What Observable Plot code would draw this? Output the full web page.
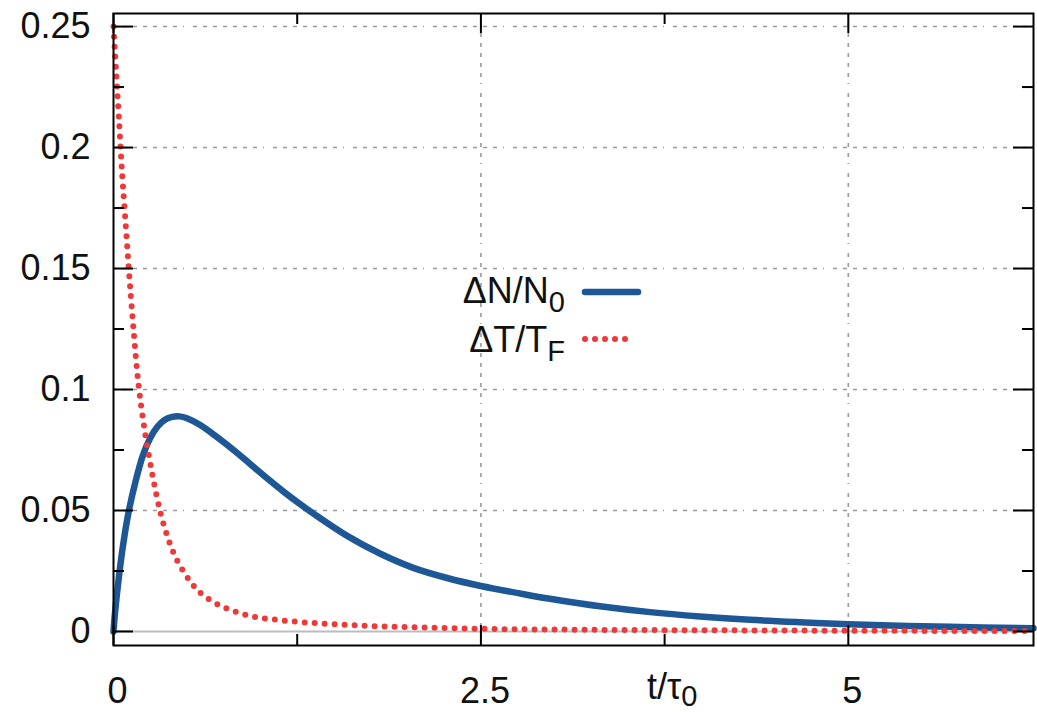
<!DOCTYPE html>
<html>
<head>
<meta charset="utf-8">
<script src="https://cdn.jsdelivr.net/npm/d3@7"></script>
<script src="https://cdn.jsdelivr.net/npm/@observablehq/plot@0.6"></script>
<style>
  html, body { margin: 0; padding: 0; background: #fff; }
  #chart { width: 1037px; height: 712px; }
</style>
</head>
<body>
<div id="chart"></div>
<script>
// Relaxation after excitation: carrier density ΔN/N0 and temperature ΔT/TF vs t/τ0
const tN = [0, 0.01, 0.03, 0.06, 0.1, 0.15, 0.2, 0.25, 0.3, 0.35, 0.4, 0.45, 0.5, 0.59, 0.705, 0.819, 0.932, 1.045, 1.159, 1.27, 1.363, 1.59, 1.816, 2.04, 2.27, 2.5, 2.81, 3.0, 3.31, 3.65, 3.99, 4.33, 4.67, 5.0, 5.69, 6.26];
const dN = [0, 0.0075, 0.019, 0.0335, 0.0485, 0.062, 0.0728, 0.08, 0.0847, 0.0875, 0.0887, 0.0889, 0.0881, 0.0853, 0.0803, 0.0749, 0.0691, 0.0633, 0.0577, 0.0526, 0.0486, 0.0395, 0.0321, 0.0263, 0.0221, 0.0188, 0.0152, 0.0132, 0.0104, 0.008, 0.0062, 0.0048, 0.0038, 0.003, 0.0019, 0.0013];

const tT = [0, 0.012, 0.024, 0.036, 0.048, 0.06, 0.075, 0.09, 0.105, 0.12, 0.14, 0.16, 0.18, 0.2, 0.22, 0.24, 0.27, 0.32, 0.376, 0.433, 0.49, 0.57, 0.68, 0.8, 0.93, 1.13, 1.27, 1.5, 1.82, 2.2, 2.5, 3.0, 3.5, 4.0, 5.0, 6.26];
const dT = [0.25, 0.237, 0.225, 0.213, 0.2, 0.188, 0.175, 0.162, 0.149, 0.137, 0.122, 0.108, 0.097, 0.088, 0.080, 0.073, 0.063, 0.049, 0.0376, 0.0293, 0.0235, 0.0172, 0.0122, 0.0088, 0.0064, 0.0047, 0.0039, 0.003, 0.0021, 0.0015, 0.0011, 0.0008, 0.0006, 0.0005, 0.0003, 0.0002];

const yTicks = [0, 0.05, 0.1, 0.15, 0.2, 0.25];
const yTickLabels = ["0", "0.05", "0.1", "0.15", "0.2", "0.25"];
const yMinor = [0.025, 0.075, 0.125, 0.175, 0.225];
const xTicks = [0, 2.5, 5];
const xTickLabels = ["0", "2.5", "5"];
const xMinor = [1.25, 3.75];
const yGrid = [0.05, 0.1, 0.15, 0.2, 0.25];
const xGrid = [2.5, 5];

const seriesN = tN.map((t, i) => ({t, v: dN[i]}));
const seriesT = tT.map((t, i) => ({t, v: dT[i]}));

const W = 1037, H = 712;
const mL = 113, mR = 4, mT = 13, mB = 67;
const innerW = W - mL - mR, innerH = H - mT - mB;
const major = 20, minor = 11;

const blue = "#1d5796";
const red = "#ef3838";
const gridDash = "4,6,4,6,4,6,4,6,4,6,4,6,4,6,1,9";
const font = "'Liberation Sans', Arial, Helvetica, sans-serif";

const plot = Plot.plot({
  width: W,
  height: H,
  marginLeft: mL,
  marginRight: mR,
  marginTop: mT,
  marginBottom: mB,
  style: {fontFamily: font, fontSize: "36px", color: "#111", background: "#fff", overflow: "visible"},
  x: {domain: [0, 6.26]},
  y: {domain: [-0.0058, 0.2554]},
  marks: [
    Plot.ruleY(yGrid, {y: d => d, stroke: "#9a9a9a", strokeWidth: 1.6, strokeDasharray: gridDash}),
    Plot.ruleX(xGrid, {x: d => d, stroke: "#9a9a9a", strokeWidth: 1.6, strokeDasharray: gridDash}),
    Plot.ruleY([0], {y: d => d, stroke: "#bdbdbd", strokeWidth: 2}),
    Plot.line(seriesN, {x: "t", y: "v", stroke: blue, strokeWidth: 6.5, curve: "catmull-rom"}),
    Plot.line(seriesT, {x: "t", y: "v", stroke: red, strokeWidth: 6, strokeDasharray: "0,10", strokeLinecap: "round", curve: "monotone-x"}),
    // inward ticks on all four sides
    Plot.tickY(yTicks, {y: d => d, insetRight: innerW - major, stroke: "#000", strokeWidth: 2}),
    Plot.tickY(yTicks, {y: d => d, insetLeft: innerW - major, stroke: "#000", strokeWidth: 2}),
    Plot.tickY(yMinor, {y: d => d, insetRight: innerW - minor, stroke: "#000", strokeWidth: 2}),
    Plot.tickY(yMinor, {y: d => d, insetLeft: innerW - minor, stroke: "#000", strokeWidth: 2}),
    Plot.tickX(xTicks, {x: d => d, insetTop: innerH - major, stroke: "#000", strokeWidth: 2}),
    Plot.tickX(xTicks, {x: d => d, insetBottom: innerH - major, stroke: "#000", strokeWidth: 2}),
    Plot.tickX(xMinor, {x: d => d, insetTop: innerH - minor, stroke: "#000", strokeWidth: 2}),
    Plot.tickX(xMinor, {x: d => d, insetBottom: innerH - minor, stroke: "#000", strokeWidth: 2}),
    Plot.frame({stroke: "#000", strokeWidth: 2}),
    Plot.axisY(yTicks, {tickSize: 0, tickPadding: 23, label: null, fontSize: 36,
      tickFormat: d => yTickLabels[yTicks.indexOf(d)]}),
    Plot.axisX(xTicks, {tickSize: 0, tickPadding: 32, label: null, fontSize: 36, dx: 4,
      tickFormat: d => xTickLabels[xTicks.indexOf(d)]})
  ]
});

document.getElementById("chart").appendChild(plot);

// Legend and axis title with subscripts, drawn into the same SVG
const svg = d3.select(plot);
const g = svg.append("g").attr("font-family", font).attr("fill", "#111");

function subText(x, y, main, sub, anchor, drop) {
  const t = g.append("text")
    .attr("x", x).attr("y", y)
    .attr("text-anchor", anchor)
    .attr("font-size", 36);
  t.append("tspan").text(main);
  t.append("tspan").attr("font-size", 29).attr("dy", drop).text(sub);
  return t;
}

subText(565, 303, "ΔN/N", "0", "end", 9);
subText(565, 352, "ΔT/T", "F", "end", 9);
g.append("line").attr("x1", 585).attr("x2", 638).attr("y1", 292).attr("y2", 292)
  .attr("stroke", blue).attr("stroke-width", 6.5).attr("stroke-linecap", "round");
g.append("line").attr("x1", 585).attr("x2", 633).attr("y1", 339).attr("y2", 339)
  .attr("stroke", red).attr("stroke-width", 6).attr("stroke-dasharray", "0,10").attr("stroke-linecap", "round");

subText(647, 699, "t/τ", "0", "start", 7);
</script>
</body>
</html>
